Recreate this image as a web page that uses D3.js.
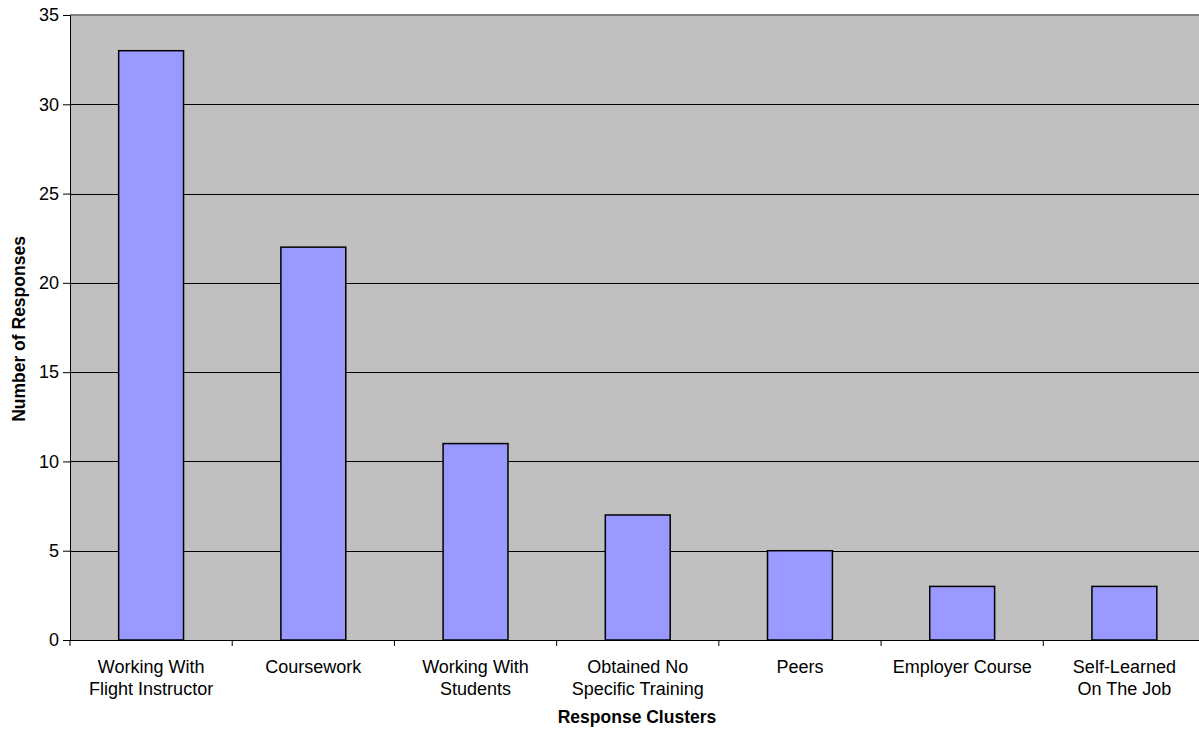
<!DOCTYPE html>
<html>
<head>
<meta charset="utf-8">
<script src="https://cdn.jsdelivr.net/npm/d3@7"></script>
<style>
  html, body { margin: 0; padding: 0; background: #fff; }
  svg { display: block; font-family: Arial, "Liberation Sans", sans-serif; }
</style>
</head>
<body>
<svg id="chart" width="1199" height="730"></svg>
<script>
// Response clusters and their counts
const categories = [
  ["Working With", "Flight Instructor"],
  ["Coursework"],
  ["Working With", "Students"],
  ["Obtained No", "Specific Training"],
  ["Peers"],
  ["Employer Course"],
  ["Self-Learned", "On The Job"]
];
const responses = [33, 22, 11, 7, 5, 3, 3];
const yTicks = [0, 5, 10, 15, 20, 25, 30, 35];

const svg = d3.select("#chart");
const margin = { left: 70, top: 15, bottom: 90 };
const plotW = 1135.5;
const plotH = 730 - margin.top - margin.bottom;
const font = "Arial, 'Liberation Sans', sans-serif";

const g = svg.append("g").attr("transform", `translate(${margin.left},${margin.top})`);

const x = d3.scaleBand()
  .domain(d3.range(categories.length))
  .range([0, plotW])
  .paddingInner(0.6)
  .paddingOuter(0.3);

const y = d3.scaleLinear().domain([0, 35]).range([plotH, 0]);

// Plot background
g.append("rect")
  .attr("x", 0).attr("y", 0)
  .attr("width", plotW).attr("height", plotH)
  .attr("fill", "#c0c0c0");

// Horizontal gridlines
g.selectAll("line.grid")
  .data(yTicks.filter(t => t > 0 && t < 35))
  .join("line")
  .attr("class", "grid")
  .attr("x1", 0).attr("x2", plotW)
  .attr("y1", d => Math.round(y(d)) + 0.5)
  .attr("y2", d => Math.round(y(d)) + 0.5)
  .attr("stroke", "#000")
  .attr("stroke-width", 1);

// Top border of the plot area
g.append("line")
  .attr("x1", 0).attr("x2", plotW)
  .attr("y1", 0).attr("y2", 0)
  .attr("stroke", "#808080")
  .attr("stroke-width", 2);

// Bars
g.selectAll("rect.bar")
  .data(responses)
  .join("rect")
  .attr("class", "bar")
  .attr("x", (d, i) => x(i))
  .attr("y", d => y(d))
  .attr("width", x.bandwidth())
  .attr("height", d => plotH - y(d))
  .attr("fill", "#9999ff")
  .attr("stroke", "#000")
  .attr("stroke-width", 1.5);

// Y axis
const yAxis = g.append("g")
  .call(d3.axisLeft(y).tickValues(yTicks).tickSize(7).tickPadding(4));
yAxis.select(".domain").attr("stroke", "#000");
yAxis.selectAll(".tick line").attr("stroke", "#000");
yAxis.selectAll(".tick text")
  .attr("font-size", 18)
  .attr("fill", "#000")
  .style("font-family", font);

// X axis: tick marks sit on the band boundaries
const xAxisG = g.append("g").attr("transform", `translate(0,${plotH})`);
xAxisG.append("line")
  .attr("x1", 0).attr("x2", plotW)
  .attr("y1", 0.5).attr("y2", 0.5)
  .attr("stroke", "#000");
const boundaries = d3.range(categories.length + 1).map(i => i * x.step() - x.paddingOuter() * x.step() + x.paddingOuter() * x.step());
xAxisG.selectAll("line.tick")
  .data(boundaries)
  .join("line")
  .attr("class", "tick")
  .attr("x1", d => d).attr("x2", d => d)
  .attr("y1", 0).attr("y2", 6)
  .attr("stroke", "#000");

// Category labels
const labels = xAxisG.selectAll("text.cat")
  .data(categories)
  .join("text")
  .attr("class", "cat")
  .attr("text-anchor", "middle")
  .attr("font-size", 18)
  .attr("fill", "#000")
  .attr("transform", (d, i) => `translate(${x(i) + x.bandwidth() / 2},${33})`);
labels.selectAll("tspan")
  .data(d => d)
  .join("tspan")
  .attr("x", 0)
  .attr("dy", (d, i) => i === 0 ? 0 : 22)
  .text(d => d);

// Axis titles
svg.append("text")
  .attr("x", 637)
  .attr("y", 723)
  .attr("text-anchor", "middle")
  .attr("font-size", 17.5)
  .attr("font-weight", "bold")
  .text("Response Clusters");

svg.append("text")
  .attr("transform", "translate(25,329) rotate(-90)")
  .attr("text-anchor", "middle")
  .attr("font-size", 17.5)
  .attr("font-weight", "bold")
  .text("Number of Responses");
</script>
</body>
</html>
